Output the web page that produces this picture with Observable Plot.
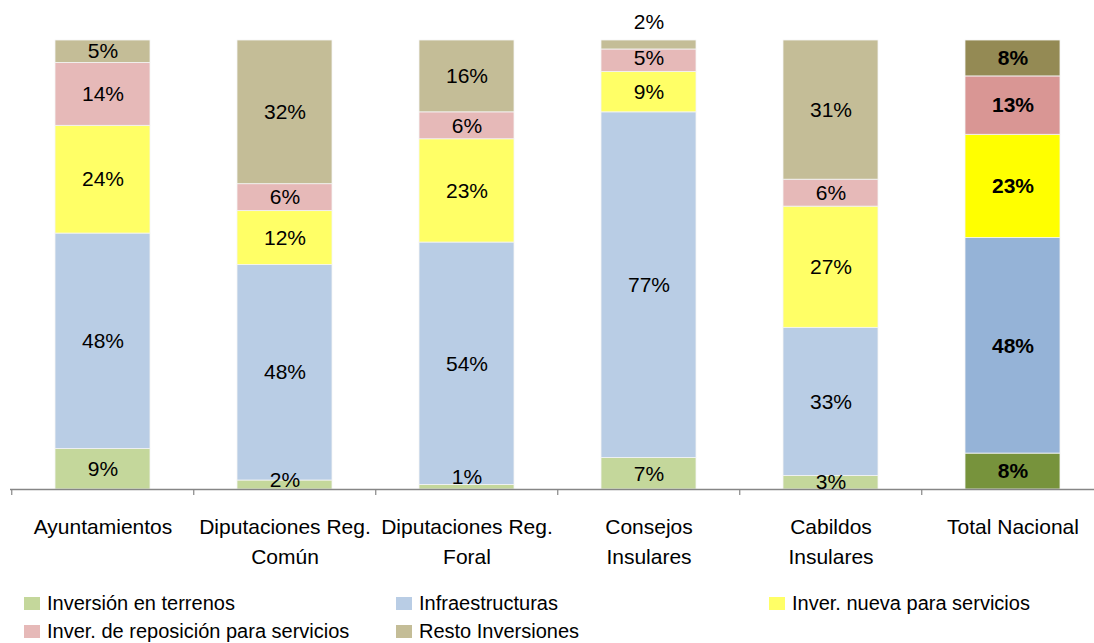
<!DOCTYPE html>
<html>
<head>
<meta charset="utf-8">
<script src="https://cdn.jsdelivr.net/npm/d3@7"></script>
<script src="https://cdn.jsdelivr.net/npm/@observablehq/plot@0.6"></script>
<style>
  html, body { margin: 0; padding: 0; background: #fff; }
  body { width: 1094px; height: 643px; overflow: hidden; font-family: "Liberation Sans", Arial, sans-serif; }
  #legend { display: grid; grid-template-columns: 372px 373px 330px; padding-left: 24px; }
  .item { display: flex; align-items: center; height: 28px; font-size: 20px; color: #000; white-space: nowrap; }
  .sw { width: 16px; height: 13px; margin-right: 7px; flex: none; }
</style>
</head>
<body>
<div id="chart"></div>
<div id="legend"></div>
<script>
const categories = ["Ayuntamientos", "Diputaciones Reg. Común", "Diputaciones Reg. Foral", "Consejos Insulares", "Cabildos Insulares", "Total Nacional"];
const categoryLabels = ["Ayuntamientos", "Diputaciones Reg.\nComún", "Diputaciones Reg.\nForal", "Consejos\nInsulares", "Cabildos\nInsulares", "Total Nacional"];
const seriesNames = ["Inversión en terrenos", "Infraestructuras", "Inver. nueva para servicios", "Inver. de reposición para servicios", "Resto Inversiones"];
const terrenos      = [9, 2, 1, 7, 3, 8];
const infraestruct  = [48, 48, 54, 77, 33, 48];
const nueva         = [24, 12, 23, 9, 27, 23];
const reposicion    = [14, 6, 6, 5, 6, 13];
const resto         = [5, 32, 16, 2, 31, 8];
const seriesColors  = ["#C4D79B", "#B9CDE5", "#FFFF66", "#E6B9B8", "#C4BD97"];
const totalColors   = ["#77933C", "#95B3D7", "#FFFF00", "#D99694", "#948A54"];
const legendOrder   = [0, 1, 2, 3, 4];

const seriesValues = [terrenos, infraestruct, nueva, reposicion, resto];
const totalCat = "Total Nacional";

const rows = [];
categories.forEach((c, ci) => {
  let acc = 0;
  seriesValues.forEach((vals, si) => {
    const v = vals[ci];
    rows.push({category: c, series: seriesNames[si], si, value: v, y0: acc, y1: acc + v, mid: acc + v / 2,
               fill: c === totalCat ? totalColors[si] : seriesColors[si]});
    acc += v;
  });
});

const W = 1094, H = 589, ML = 10, MB = 100, MT = 40;
const xRange = [ML, ML + 182.5 * categories.length];
const step = (xRange[1] - xRange[0]) / categories.length;
const pxPerUnit = (H - MB - MT) / 100;

// label placement: tiny top segment label goes above the bar, tiny bottom labels lift slightly
const isTopTiny = d => d.si === seriesNames.length - 1 && d.value < 3;
const labelY = d => isTopTiny(d) ? 100 + 18 / pxPerUnit
  : d.mid + (d.value < 3 ? (3 - d.value) * 5 / pxPerUnit : 0) + (d.si === 3 && d.value <= 5 ? 2 / pxPerUnit : 0);

const plot = Plot.plot({
  width: W, height: H,
  marginLeft: ML, marginRight: 0, marginTop: MT, marginBottom: MB,
  style: {fontFamily: "Liberation Sans, Arial, sans-serif", background: "white", overflow: "visible"},
  x: {domain: categories, range: xRange, paddingInner: 0.48, paddingOuter: 0.24, axis: null},
  y: {domain: [0, 100], axis: null},
  color: {type: "identity"},
  marks: [
    Plot.barY(rows, {x: "category", y1: "y0", y2: "y1", fill: "fill", stroke: "#f4f4f4", strokeWidth: 0.8}),
    Plot.ruleY([0], {stroke: "#868686", strokeWidth: 1.5}),
    Plot.ruleX(categories, {x: d => d, dx: -step / 2, y1: 0, y2: 0, insetBottom: -6, stroke: "#868686", strokeWidth: 1.2}),
    ...[false, true].map(bold => Plot.text(rows.filter(d => (d.category === totalCat) === bold), {
      x: "category", y: labelY, text: d => d.value + "%",
      fontSize: 21, fill: "#000", fontWeight: bold ? "bold" : "normal"
    })),
    Plot.text(categories, {x: d => d, y: 0, dy: 24, text: (d, i) => categoryLabels[i],
      lineAnchor: "top", lineHeight: 1.4, fontSize: 21, fill: "#000"})
  ]
});
document.getElementById("chart").appendChild(plot);

const legend = document.getElementById("legend");
legendOrder.forEach(i => {
  const it = document.createElement("div");
  it.className = "item";
  const sw = document.createElement("span");
  sw.className = "sw";
  sw.style.background = seriesColors[i];
  const tx = document.createElement("span");
  tx.textContent = seriesNames[i];
  it.appendChild(sw); it.appendChild(tx);
  legend.appendChild(it);
});
</script>
</body>
</html>
